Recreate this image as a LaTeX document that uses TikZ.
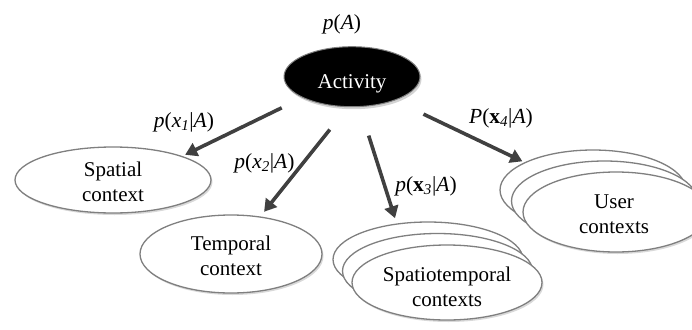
\documentclass[tikz,border=0pt]{standalone}
\usepackage{fontspec}
\setmainfont{Liberation Serif}
\usetikzlibrary{arrows.meta,shadows,shapes.geometric}
\definecolor{arrowgray}{HTML}{404040}
\definecolor{rimgray}{HTML}{7F7F7F}
\newcommand\subit[1]{\textsubscript{\itshape #1}}
\newcommand\dn[2]{\raisebox{-#1}[\height][\depth]{#2}}
\begin{document}
\begin{tikzpicture}[x=1pt,y=-1pt,
  txtfont/.style={font=\fontsize{21}{25}\selectfont},
  ctx/.style={ellipse, draw=rimgray, line width=1.3pt, fill=white, inner sep=0pt,
    align=center, txtfont,
    drop shadow={opacity=0.3, shadow xshift=1.5pt, shadow yshift=-2pt}},
  actv/.style={ellipse, draw=rimgray, line width=1pt, fill=black, text=white,
    inner sep=0pt, txtfont, minimum width=136pt, minimum height=60pt,
    drop shadow={opacity=0.35, shadow xshift=1.5pt, shadow yshift=-2.5pt}},
  stbox/.style={ctx, minimum width=190pt, minimum height=75pt},
  usbox/.style={ctx, minimum width=186pt, minimum height=80pt},
  prob/.style={anchor=base, font=\fontsize{21.5}{25}\selectfont},
  link/.style={draw=arrowgray, line width=3.6pt, -{Triangle[length=12pt,width=14pt]}}]
\useasboundingbox (0,0) rectangle (692,329);

% nodes
\node[actv] (act) at (352,76.7) {\dn{7pt}{Activity}};
\node[ctx, minimum width=196pt, minimum height=66pt] (sp) at (113,180)
  {\dn{2pt}{Spatial}\\\dn{2pt}{context}};
\node[ctx, minimum width=182pt, minimum height=78pt] (tp) at (231,254)
  {\dn{1.5pt}{Temporal}\\\dn{1.5pt}{context}};
\node[stbox] (st3) at (428,259.5) {};
\node[stbox] (st2) at (437.5,271) {};
\node[stbox] (st) at (447,282.5)
  {\dn{4pt}{Spatiotemporal}\\\dn{4pt}{contexts}};
\node[usbox] (us3) at (593,190) {};
\node[usbox] (us2) at (604.5,201) {};
\node[usbox] (us) at (616,212)
  {\dn{2pt}{User}\hspace*{4pt}\\\dn{2pt}{contexts}\hspace*{4pt}};

% probability labels
\node[prob] (pA) at (342,29.3) {\textit{p}(\textit{A})};
\node[prob] (p1) at (184,127) {\textit{p}(\textit{x}\subit{1}|\textit{A})};
\node[prob] (p2) at (264.5,168.3) {\textit{p}(\textit{x}\subit{2}|\textit{A})};
\node[prob] (p3) at (426,191.7) {\textit{p}(\textbf{x}\subit{3}|\textit{A})};
\node[prob] (p4) at (501,123.5) {\textit{P}(\textbf{x}\subit{4}|\textit{A})};

% connectors
\draw[link, shorten <=23pt, shorten >=3pt] (act.203) -- (sp.19);
\draw[link, shorten <=28.7pt, shorten >=6pt] (act.262) -- (tp.52);
\draw[link, shorten <=30pt, shorten >=5.5pt] (act.284) -- (st3.131);
\draw[link, shorten <=31.7pt, shorten >=2.3pt] (act.331) -- (us3.158);
\end{tikzpicture}
\end{document}
